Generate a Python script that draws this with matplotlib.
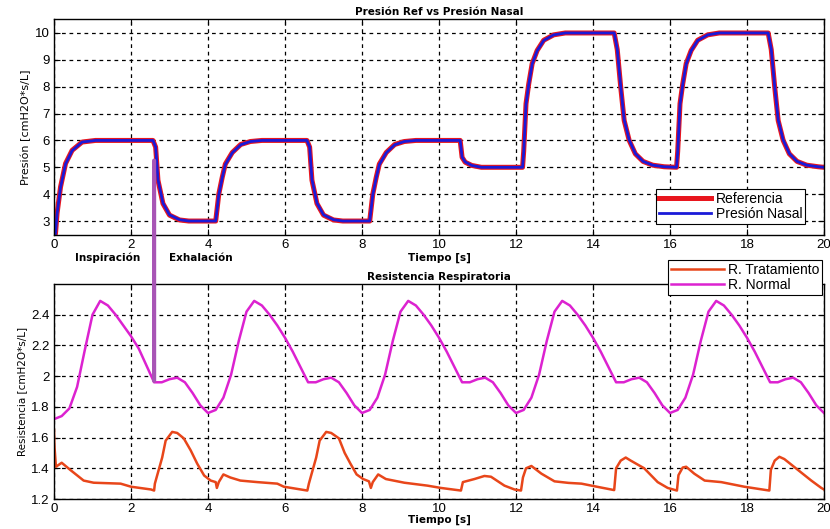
import numpy as np
import matplotlib
matplotlib.use("Agg")
import matplotlib.pyplot as plt
from matplotlib.patches import ConnectionPatch

# Presion de referencia (t [s], cmH2O)
t_ref = [0.0, 0.04, 0.08, 0.17, 0.30, 0.47, 0.73, 1.08, 2.57,
         2.64, 2.70, 2.83, 3.00, 3.26, 3.50, 4.20,
         4.28, 4.37, 4.45, 4.63, 4.85, 5.10, 5.40, 6.57,
         6.64, 6.70, 6.83, 7.00, 7.26, 7.50, 8.20,
         8.28, 8.37, 8.45, 8.63, 8.85, 9.10, 9.40, 10.55,
         10.60, 10.68, 10.85, 11.10, 12.17,
         12.20, 12.26, 12.33, 12.42, 12.55, 12.72, 12.98, 13.28, 14.55,
         14.63, 14.72, 14.81, 14.94, 15.10, 15.30, 15.55, 15.85, 16.17,
         16.20, 16.26, 16.33, 16.42, 16.55, 16.72, 16.98, 17.28, 18.55,
         18.63, 18.72, 18.81, 18.94, 19.10, 19.30, 19.55, 19.85, 20.0]
p_ref = [2.3, 2.55, 3.29, 4.27, 5.14, 5.63, 5.94, 6.0, 6.0,
         5.75, 4.52, 3.65, 3.22, 3.04, 3.0, 3.0,
         4.0, 4.63, 5.12, 5.55, 5.85, 5.96, 6.0, 6.0,
         5.75, 4.52, 3.65, 3.22, 3.04, 3.0, 3.0,
         4.0, 4.63, 5.12, 5.55, 5.85, 5.96, 6.0, 6.0,
         5.37, 5.19, 5.07, 5.0, 5.0,
         5.6, 7.37, 8.1, 8.86, 9.35, 9.73, 9.93, 10.0, 10.0,
         9.38, 7.98, 6.74, 6.0, 5.5, 5.22, 5.08, 5.02, 5.0,
         5.6, 7.37, 8.1, 8.86, 9.35, 9.73, 9.93, 10.0, 10.0,
         9.38, 7.98, 6.74, 6.0, 5.5, 5.22, 5.08, 5.02, 5.0]
# Presion nasal: sigue a la referencia
p_nasal = [2.3, 2.55, 3.27, 4.25, 5.12, 5.62, 5.94, 6.0, 6.0,
           5.76, 4.55, 3.67, 3.23, 3.05, 3.0, 3.0,
           3.97, 4.61, 5.10, 5.54, 5.84, 5.96, 6.0, 6.0,
           5.76, 4.55, 3.67, 3.23, 3.05, 3.0, 3.0,
           3.97, 4.61, 5.10, 5.54, 5.84, 5.96, 6.0, 6.0,
           5.38, 5.20, 5.07, 5.0, 5.0,
           5.55, 7.33, 8.07, 8.84, 9.34, 9.72, 9.93, 10.0, 10.0,
           9.40, 8.01, 6.77, 6.02, 5.51, 5.22, 5.08, 5.02, 5.0,
           5.55, 7.33, 8.07, 8.84, 9.34, 9.72, 9.93, 10.0, 10.0,
           9.40, 8.01, 6.77, 6.02, 5.51, 5.22, 5.08, 5.02, 5.0]

# Resistencia normal
t_rn = [0.0, 0.2, 0.4, 0.6, 0.8, 1.0, 1.2, 1.4, 1.6, 1.8, 2.0, 2.2, 2.4, 2.6, 2.8, 3.0, 3.2, 3.4, 3.6, 3.8, 4.0,
        4.2, 4.4, 4.6, 4.8, 5.0, 5.2, 5.4, 5.6, 5.8, 6.0, 6.2, 6.4, 6.6, 6.8, 7.0, 7.2, 7.4, 7.6, 7.8, 8.0,
        8.2, 8.4, 8.6, 8.8, 9.0, 9.2, 9.4, 9.6, 9.8, 10.0, 10.2, 10.4, 10.6, 10.8, 11.0, 11.2, 11.4, 11.6, 11.8, 12.0,
        12.2, 12.4, 12.6, 12.8, 13.0, 13.2, 13.4, 13.6, 13.8, 14.0, 14.2, 14.4, 14.6, 14.8, 15.0, 15.2, 15.4, 15.6, 15.8, 16.0,
        16.2, 16.4, 16.6, 16.8, 17.0, 17.2, 17.4, 17.6, 17.8, 18.0, 18.2, 18.4, 18.6, 18.8, 19.0, 19.2, 19.4, 19.6, 19.8, 20.0]
r_normal = [1.72, 1.74, 1.79, 1.93, 2.17, 2.40, 2.49, 2.46, 2.40, 2.33, 2.26, 2.18, 2.07, 1.96, 1.96, 1.98, 1.99, 1.96, 1.89, 1.81, 1.76,
            1.78, 1.86, 2.01, 2.23, 2.42, 2.49, 2.46, 2.40, 2.33, 2.25, 2.16, 2.06, 1.96, 1.96, 1.98, 1.99, 1.96, 1.89, 1.81, 1.76,
            1.78, 1.86, 2.01, 2.23, 2.42, 2.49, 2.46, 2.40, 2.33, 2.25, 2.16, 2.06, 1.96, 1.96, 1.98, 1.99, 1.96, 1.89, 1.81, 1.76,
            1.78, 1.86, 2.01, 2.23, 2.42, 2.49, 2.46, 2.40, 2.33, 2.25, 2.16, 2.06, 1.96, 1.96, 1.98, 1.99, 1.96, 1.89, 1.81, 1.76,
            1.78, 1.86, 2.01, 2.23, 2.42, 2.49, 2.46, 2.40, 2.33, 2.25, 2.16, 2.06, 1.96, 1.96, 1.98, 1.99, 1.96, 1.89, 1.81, 1.76]

# Resistencia con tratamiento
t_rt = [0.0, 0.01, 0.05, 0.2, 0.42, 0.77, 1.03, 1.73, 2.0, 2.52, 2.60,
        2.62, 2.68, 2.81, 2.90, 3.07, 3.20, 3.37, 3.55, 3.72, 3.90, 4.07, 4.20, 4.23, 4.28, 4.40, 4.58, 4.84, 5.28, 5.80, 5.97, 6.58,
        6.62, 6.68, 6.81, 6.90, 7.07, 7.20, 7.40, 7.55, 7.70, 7.86, 8.03, 8.18, 8.23, 8.28, 8.42, 8.62, 9.10, 9.70, 10.05, 10.57,
        10.62, 10.92, 11.18, 11.35, 11.70, 11.96, 12.13,
        12.18, 12.26, 12.40, 12.66, 13.00, 13.36, 13.70, 14.10, 14.55,
        14.60, 14.72, 14.85, 14.98, 15.33, 15.68, 15.94, 16.18,
        16.22, 16.33, 16.42, 16.63, 16.90, 17.33, 17.93, 18.58,
        18.62, 18.72, 18.84, 18.97, 19.32, 19.67, 19.93, 20.0]
r_trat = [1.65, 1.55, 1.41, 1.436, 1.39, 1.32, 1.306, 1.30, 1.28, 1.262, 1.255,
          1.30, 1.354, 1.47, 1.58, 1.637, 1.63, 1.595, 1.517, 1.43, 1.353, 1.32, 1.31, 1.272, 1.31, 1.36, 1.34, 1.32, 1.31, 1.30, 1.28, 1.255,
          1.30, 1.354, 1.47, 1.58, 1.637, 1.63, 1.595, 1.50, 1.43, 1.36, 1.33, 1.315, 1.272, 1.31, 1.36, 1.33, 1.306, 1.287, 1.272, 1.255,
          1.31, 1.33, 1.35, 1.345, 1.287, 1.262, 1.255,
          1.34, 1.40, 1.415, 1.365, 1.315, 1.305, 1.30, 1.28, 1.258,
          1.40, 1.45, 1.47, 1.45, 1.40, 1.31, 1.272, 1.255,
          1.355, 1.405, 1.41, 1.365, 1.32, 1.31, 1.28, 1.255,
          1.39, 1.45, 1.475, 1.46, 1.39, 1.32, 1.272, 1.262]

xticks = np.arange(0, 21, 2)

plt.rcParams['font.family'] = ['Liberation Sans', 'DejaVu Sans']
W, H = 830, 529
fig = plt.figure(figsize=(W / 100, H / 100), dpi=100)

def px_axes(l, t, r, b):
    return fig.add_axes([l / W, 1 - b / H, (r - l) / W, (b - t) / H])

def style(ax):
    ax.tick_params(direction='in', top=True, right=True, labelsize=9.5, length=4, pad=3)
    ax.grid(True, color='black', linestyle=(0, (3, 3)), linewidth=0.9)
    for s in ax.spines.values():
        s.set_linewidth(1.0)
    ax.set_xticks(xticks)
    ax.set_xlim(0, 20)

tfont = dict(family='DejaVu Sans', fontweight='bold', fontsize=7.5)

# Presion
ax1 = px_axes(54, 19, 824, 235)
ax1.plot(t_ref, p_ref, color='#E8161E', lw=3.6, label='Referencia')
ax1.plot(t_ref, p_nasal, color='#1A1AD8', lw=2.0, label='Presión Nasal')
style(ax1)
ax1.set_ylim(2.48, 10.52)
ax1.set_yticks(range(3, 11))
ax1.set_title('Presión Ref vs Presión Nasal', pad=3, **tfont)
ax1.set_xlabel('Tiempo [s]', labelpad=1, **tfont)
ax1.set_ylabel('Presión [cmH2O*s/L]', fontsize=8, family='DejaVu Sans', labelpad=3)
leg1 = ax1.legend(loc='lower right', bbox_to_anchor=(805 / W, 1 - 224 / H), bbox_transform=fig.transFigure,
                  fancybox=False, edgecolor='black', fontsize=10, handlelength=3.8, framealpha=1,
                  borderpad=0.2, labelspacing=0.1, handletextpad=0.3, borderaxespad=0)
leg1.get_frame().set_linewidth(0.8)

# Resistencia
ax2 = px_axes(54, 284, 824, 499)
ax2.plot(t_rt, r_trat, color='#E8461A', lw=1.8, label='R. Tratamiento')
ax2.plot(t_rn, r_normal, color='#DC22D0', lw=1.8, label='R. Normal')
style(ax2)
ax2.set_ylim(1.2, 2.6)
ax2.set_yticks([1.2, 1.4, 1.6, 1.8, 2.0, 2.2, 2.4])
ax2.set_yticklabels(['1.2', '1.4', '1.6', '1.8', '2', '2.2', '2.4'])
ax2.set_title('Resistencia Respiratoria', pad=3, **tfont)
ax2.set_xlabel('Tiempo [s]', labelpad=0, **tfont)
ax2.set_ylabel('Resistencia [cmH2O*s/L]', fontsize=7.5, family='DejaVu Sans', labelpad=3)
leg2 = ax2.legend(loc='upper right', bbox_to_anchor=(822 / W, 1 - 260 / H), bbox_transform=fig.transFigure,
                  fancybox=False, edgecolor='black', fontsize=10, handlelength=3.8, framealpha=1,
                  borderpad=0.2, labelspacing=0.1, handletextpad=0.3, borderaxespad=0)
leg2.get_frame().set_linewidth(0.8)

# Linea que une ambas graficas
con = ConnectionPatch(xyA=(2.6, 5.25), coordsA=ax1.transData, xyB=(2.6, 1.97), coordsB=ax2.transData,
                      color='#A855B5', lw=3, zorder=10)
fig.add_artist(con)

fig.text(108 / W, 1 - 258 / H, 'Inspiración', ha='center', va='center', **tfont)
fig.text(201 / W, 1 - 258 / H, 'Exhalación', ha='center', va='center', **tfont)

fig.savefig('out.png', dpi=100)
